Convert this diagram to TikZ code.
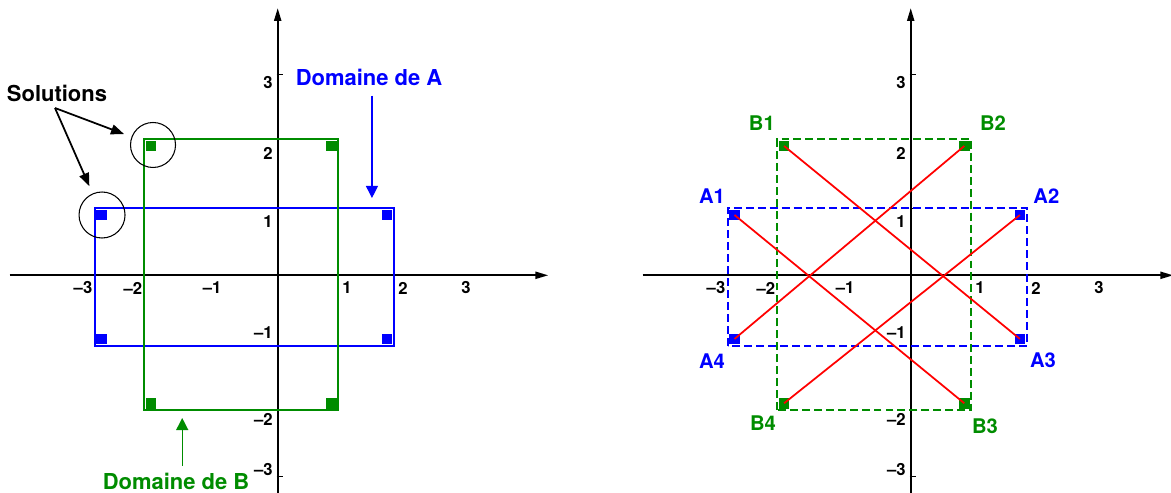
\documentclass[tikz,border=0pt]{standalone}
\usepackage{fontspec}
\setmainfont{TeX Gyre Heros}
\usetikzlibrary{arrows.meta,calc}
\definecolor{dgreen}{RGB}{0,140,0}
\tikzset{>={Triangle[length=0.24cm,width=0.24cm]},
axis/.style={line width=1.2pt,-{Triangle[length=0.26cm,width=0.14cm]}},
tickmark/.style={line width=0.7pt},
ticklab/.style={font=\fontsize{9.5}{11}\selectfont\bfseries,inner sep=0pt},
bigtxt/.style={font=\fontsize{12.5}{14}\selectfont\bfseries,inner sep=0pt},
ptlab/.style={font=\fontsize{11.5}{13}\selectfont\bfseries,inner sep=0pt},
domA/.style={blue,line width=1.15pt},domB/.style={dgreen,line width=1.15pt},
pt/.style={rectangle,inner sep=0pt,minimum size=6pt},
ring/.style={draw,circle,inner sep=0pt,line width=0.6pt},
solarrow/.style={line width=1pt,-{Triangle[length=0.26cm,width=0.2cm]},shorten >=0.16cm},
cross/.style={red,line width=1pt},
dashline/.style={dash pattern=on 4.5pt off 2.3pt}}
% axes, ticks and graduations : #1 = prefix, #2 = end of x axis
\newcommand{\repere}[2]{%
\draw[axis] (-4,0)--(#2,0);\draw[axis] (0,-3.3)--(0,3.99);
\foreach \y in {3,1,-2,-3} \draw[tickmark] (-0.015,\y)--(0.075,\y);
\draw[tickmark] (-2,-0.05)--(-2,0.06);
\foreach \x/\lab [count=\i] in {-2.906/{\textendash3},-2.16/{\textendash2},-0.98/{\textendash1},1.034/1,1.87/2,2.81/3}
\node[ticklab] (#1x\i) at (\x,-0.19){\lab};
\foreach \y/\lab [count=\i] in {2.87/3,1.825/2,0.796/1,-0.861/{\textendash1},-2.145/{\textendash2},-2.906/{\textendash3}}
\node[ticklab,anchor=east] (#1y\i) at (-0.07,\y){\lab};}

\begin{document}
\begin{tikzpicture}[x=1.34cm,y=1.34cm]
\useasboundingbox (-4.145,-3.249) rectangle (13.333,4.109);
% domaines et solutions
\repere{L}{4.04}
\draw[domA] (-2.73,-1.05) rectangle (1.73,1.0);\draw[domB] (-1.99,-2.01) rectangle (0.9,2.03);
\foreach \x/\y [count=\i] in {-2.63/0.9,1.63/0.9,1.63/-0.95,-2.63/-0.95} \node[pt,fill=blue] (La\i) at (\x,\y){};
\foreach \x/\y [count=\i] in {-1.89/1.93,0.8/1.93,0.8/-1.91,-1.89/-1.91} \node[pt,fill=dgreen] (Lb\i) at (\x,\y){};
\node[ring,minimum size=0.9cm] (cg) at (-1.861,1.945){};\node[ring,minimum size=0.92cm] (cb) at (-2.622,0.9){};
\node[bigtxt] (sol) at (-3.294,2.721){Solutions};
\coordinate (fork) at (-3.324,2.497);
\draw[solarrow] (fork)--(cg);\draw[solarrow] (fork)--(cb);
\node[bigtxt,text=blue] (domA) at (1.363,2.96){Domaine de A};
\coordinate (tipA) at (1.407,1.154);
\draw[blue,line width=0.7pt,->] ($(domA.south -| tipA)+(0,-0.15)$)--(tipA);
\node[bigtxt,text=dgreen] (domB) at (-1.518,-3.07){Domaine de B};
\coordinate (tipB) at (-1.425,-2.13);
\draw[dgreen,line width=0.7pt,->] ($(domB.north -| tipB)+(0,0.1)$)--(tipB);
% recherche des points
\begin{scope}[shift={(9.448,0)}]
\repere{R}{3.92}
\draw[domA,dashline] (-2.73,-1.05) rectangle (1.73,1.0);\draw[domB,dashline] (-1.99,-2.01) rectangle (0.9,2.03);
\foreach \x/\y [count=\i] in {-2.63/0.9,1.63/0.9,1.63/-0.95,-2.63/-0.95} \node[pt,fill=blue] (A\i) at (\x,\y){};
\foreach \x/\y [count=\i] in {-1.89/1.93,0.8/1.93,0.8/-1.91,-1.89/-1.91} \node[pt,fill=dgreen] (B\i) at (\x,\y){};
\draw[cross] (A1.center)--(B3.center);\draw[cross] (B1.center)--(A3.center);
\draw[cross] (A4.center)--(B2.center);\draw[cross] (B4.center)--(A2.center);
\foreach \n/\x/\y in {A1/-2.966/1.183,A2/2.025/1.183,A3/1.975/-1.265,A4/-2.966/-1.279}
\node[ptlab,text=blue] (l\n) at (\x,\y){\n};
\foreach \n/\x/\y in {B1/-2.222/2.272,B2/1.228/2.272,B3/1.109/-2.249,B4/-2.205/-2.204}
\node[ptlab,text=dgreen] (l\n) at (\x,\y){\n};
\end{scope}
\end{tikzpicture}
\end{document}
